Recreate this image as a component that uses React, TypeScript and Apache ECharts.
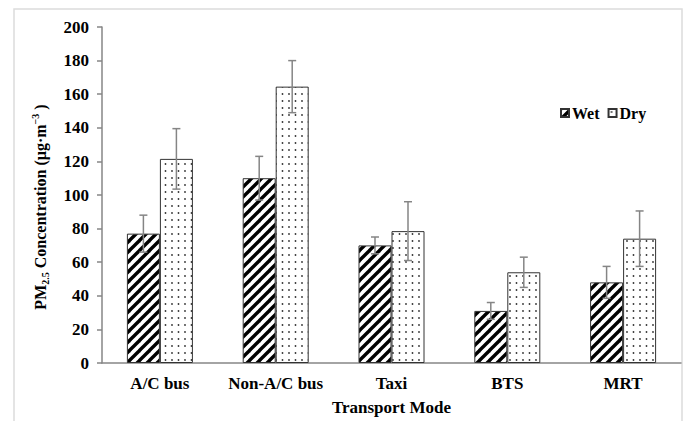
import React, { useEffect, useRef } from "react";
import * as echarts from "echarts";

const categories = ["A/C bus", "Non-A/C bus", "Taxi", "BTS", "MRT"];
const seriesNames = ["Wet", "Dry"];
const wetValues = [77, 110, 70, 31, 48];
const wetErrors = [11, 13, 5, 5, 9.5];
const dryValues = [121.5, 164.5, 78.5, 54, 74];
const dryErrors = [18, 15.5, 17.5, 9, 16.5];
const yTicks = { min: 0, max: 200, interval: 20 };

const FONT = "'Liberation Serif', 'Times New Roman', serif";

function makeStripe(): HTMLCanvasElement {
  const c = document.createElement("canvas");
  const s = 10;
  c.width = s;
  c.height = s;
  const ctx = c.getContext("2d")!;
  ctx.fillStyle = "#ffffff";
  ctx.fillRect(0, 0, s, s);
  ctx.strokeStyle = "#000000";
  ctx.lineWidth = 3.4;
  for (const o of [-s, 0, s]) {
    ctx.beginPath();
    ctx.moveTo(o - 1, s + 1);
    ctx.lineTo(o + s + 1, -1);
    ctx.stroke();
  }
  return c;
}

function makeDots(): HTMLCanvasElement {
  const c = document.createElement("canvas");
  c.width = 13;
  c.height = 14;
  const ctx = c.getContext("2d")!;
  ctx.fillStyle = "#ffffff";
  ctx.fillRect(0, 0, 13, 14);
  ctx.fillStyle = "#333333";
  const pts = [
    [3, 3],
    [9.5, 3],
    [3, 10],
    [9.5, 10],
  ];
  for (const [x, y] of pts) {
    ctx.beginPath();
    ctx.arc(x, y, 0.9, 0, Math.PI * 2);
    ctx.fill();
  }
  return c;
}

export default function App() {
  const ref = useRef<HTMLDivElement>(null);

  useEffect(() => {
    if (!ref.current) return;
    const chart = echarts.init(ref.current, undefined, { renderer: "svg" });
    const stripe = makeStripe();
    const dots = makeDots();
    const BAR_FRAC = 0.285;

    const errSeries = (vals: number[], errs: number[], sign: number, name: string) => ({
      type: "custom",
      name: name + " error",
      z: 10,
      silent: true,
      data: vals.map((v, i) => [i, v - errs[i], v + errs[i]]),
      encode: { x: 0, y: [1, 2] },
      renderItem: (params: any, api: any) => {
        const band = api.size([1, 0])[0];
        const off = (sign * band * BAR_FRAC) / 2;
        const lo = api.coord([api.value(0), api.value(1)]);
        const hi = api.coord([api.value(0), api.value(2)]);
        const x = lo[0] + off;
        const cap = 4;
        const style = { stroke: "#858585", lineWidth: 1.5 };
        return {
          type: "group",
          children: [
            { type: "line", shape: { x1: x, y1: lo[1], x2: x, y2: hi[1] }, style },
            { type: "line", shape: { x1: x - cap, y1: hi[1], x2: x + cap, y2: hi[1] }, style },
            { type: "line", shape: { x1: x - cap, y1: lo[1], x2: x + cap, y2: lo[1] }, style },
          ],
        };
      },
    });

    const txt = { fontFamily: FONT, fontWeight: "bold", fontSize: 17, color: "#000" };

    chart.setOption({
      animation: false,
      backgroundColor: "#ffffff",
      textStyle: { fontFamily: FONT },
      graphic: [
        {
          type: "rect",
          shape: { x: 14, y: 9, width: 668, height: 430 },
          style: { fill: "none", stroke: "#dcdcdc", lineWidth: 1.5 },
          silent: true,
        },
      ],
      legend: {
        data: seriesNames,
        left: 555,
        top: 100,
        icon: "rect",
        itemWidth: 8,
        itemHeight: 8,
        itemGap: 8,
        textStyle: { ...txt, fontSize: 16, padding: [0, 0, 0, -2] },
      },
      grid: { left: 102, right: 5, top: 27, bottom: 56, containLabel: false },
      xAxis: {
        type: "category",
        data: categories,
        name: "Transport Mode",
        nameLocation: "middle",
        nameGap: 36,
        nameTextStyle: txt,
        axisLine: { lineStyle: { color: "#868686", width: 1.5 } },
        axisTick: { show: false },
        axisLabel: { ...txt, interval: 0, margin: 12 },
      },
      yAxis: {
        type: "value",
        min: yTicks.min,
        max: yTicks.max,
        interval: yTicks.interval,
        name: "{b|PM}{s|2.5}{b| Concentration (µg·m}{p|−3}{b| )}",
        nameLocation: "middle",
        nameGap: 52,
        nameTextStyle: {
          padding: [0, 0, 0, -24],
          rich: {
            b: { ...txt, fontSize: 16, lineHeight: 20 },
            s: { ...txt, fontSize: 10, lineHeight: 12, verticalAlign: "bottom" },
            p: { ...txt, fontSize: 10, lineHeight: 12, verticalAlign: "top" },
          },
        },
        axisLine: { show: true, lineStyle: { color: "#868686", width: 1.5 } },
        axisTick: { show: true, length: 5, lineStyle: { color: "#868686", width: 1.5 } },
        splitLine: { show: false },
        axisLabel: { ...txt, margin: 13 },
      },
      series: [
        {
          type: "bar",
          name: seriesNames[0],
          data: wetValues,
          barWidth: "28.5%",
          barGap: "0%",
          itemStyle: { color: { image: stripe, repeat: "repeat" }, borderColor: "#333", borderWidth: 1 },
        },
        {
          type: "bar",
          name: seriesNames[1],
          data: dryValues,
          barWidth: "28.5%",
          barGap: "0%",
          itemStyle: { color: { image: dots, repeat: "repeat" }, borderColor: "#333", borderWidth: 1 },
        },
        errSeries(wetValues, wetErrors, -1, seriesNames[0]),
        errSeries(dryValues, dryErrors, 1, seriesNames[1]),
      ],
    });
    return () => chart.dispose();
  }, []);

  return <div ref={ref} style={{ position: "fixed", left: 0, top: 0, width: 686, height: 421 }} />;
}
